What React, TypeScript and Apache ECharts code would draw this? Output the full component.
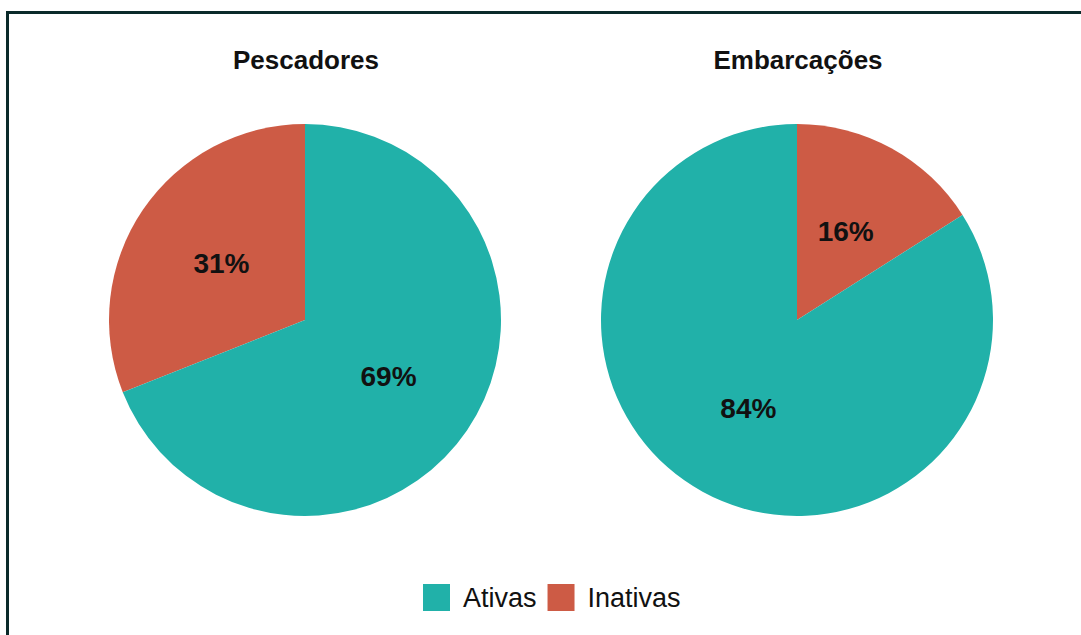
import React, { useEffect, useRef } from "react";
import * as echarts from "echarts";

const categories = ["Ativas", "Inativas"];
const pescadoresValues = [69, 31];
const embarcacoesValues = [84, 16];
const chartTitles = ["Pescadores", "Embarcações"];
const colors = ["#21b1a9", "#cd5b45"];

export default function App() {
  const ref = useRef<HTMLDivElement>(null);
  useEffect(() => {
    document.body.style.margin = "0";
    const chart = echarts.init(ref.current!, null, { renderer: "svg" });
    const font = "'Liberation Sans', Arial, sans-serif";
    const label = {
      show: true,
      position: "inside",
      formatter: "{c}%",
      fontSize: 28,
      fontWeight: "bold",
      color: "#111",
      fontFamily: font,
    };
    const mk = (vals: number[], order: number[], cx: number, clockwise: boolean) => ({
      type: "pie",
      center: [cx, 320],
      radius: [0, 196],
      startAngle: 90,
      clockwise,
      label,
      labelLine: { show: false },
      emphasis: { disabled: true },
      data: order.map((i) => ({
        name: categories[i],
        value: vals[i],
        itemStyle: { color: colors[i] },
      })),
    });
    chart.setOption({
      animation: false,
      backgroundColor: "#ffffff",
      title: [
        {
          text: chartTitles[0],
          left: 301,
          top: 42,
          textAlign: "center",
          textStyle: { fontSize: 26, fontWeight: "bold", color: "#111", fontFamily: font },
        },
        {
          text: chartTitles[1],
          left: 793,
          top: 42,
          textAlign: "center",
          textStyle: { fontSize: 26, fontWeight: "bold", color: "#111", fontFamily: font },
        },
      ],
      legend: {
        data: categories,
        left: 418,
        top: 579,
        itemWidth: 27,
        itemHeight: 27,
        itemGap: 11,
        icon: "rect",
        textStyle: { fontSize: 27, color: "#111", fontFamily: font, padding: [0, 0, 0, 8] },
      },
      graphic: [
        {
          type: "rect",
          shape: { x: 7.5, y: 12.5, width: 1100, height: 700 },
          style: { fill: "none", stroke: "#0b2a2a", lineWidth: 3 },
          silent: true,
        },
      ],
      series: [
        mk(pescadoresValues, [1, 0], 305, false),
        mk(embarcacoesValues, [1, 0], 797, true),
      ],
    });
    return () => chart.dispose();
  }, []);
  return <div ref={ref} style={{ width: 1081, height: 635 }} />;
}
